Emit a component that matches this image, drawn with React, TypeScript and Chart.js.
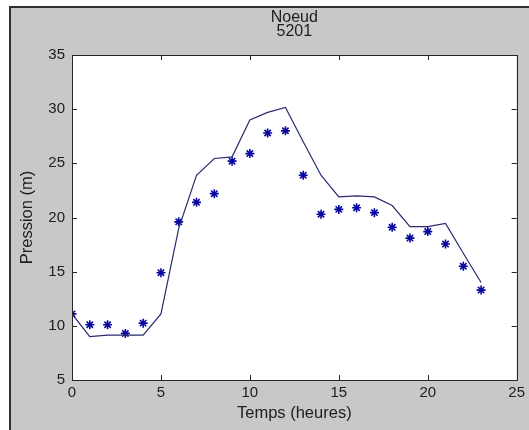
import React, { useEffect, useRef } from "react";
import { Chart, registerables } from "chart.js";

Chart.register(...registerables);

const hours = [0, 1, 2, 3, 4, 5, 6, 7, 8, 9, 10, 11, 12, 13, 14, 15, 16, 17, 18, 19, 20, 21, 22, 23];
const simulated = [11.1, 9.0, 9.15, 9.15, 9.15, 11.1, 19.0, 23.9, 25.45, 25.6, 29.0, 29.7, 30.15, 27.0, 23.9, 21.9, 22.0, 21.9, 21.1, 19.15, 19.15, 19.45, 16.7, 14.0];
const measured = [11.1, 10.1, 10.1, 9.3, 10.25, 14.9, 19.6, 21.4, 22.2, 25.2, 25.9, 27.8, 28.0, 23.9, 20.3, 20.75, 20.9, 20.45, 19.1, 18.1, 18.7, 17.55, 15.5, 13.3];
const titleLines = ["Noeud", "5201"];
const xTitle = "Temps (heures)";
const yTitle = "Pression (m)";

const FONT = "'Liberation Sans', Arial, sans-serif";
const TEXT = "#202020";

const boxPlugin = {
  id: "matlabBox",
  beforeDatasetsDraw(chart: any) {
    const { ctx, chartArea } = chart;
    ctx.save();
    ctx.fillStyle = "#ffffff";
    ctx.fillRect(chartArea.left, chartArea.top, chartArea.right - chartArea.left, chartArea.bottom - chartArea.top);
    ctx.restore();
  },
  afterDatasetsDraw(chart: any) {
    const { ctx, chartArea, scales } = chart;
    const { left, right, top, bottom } = chartArea;
    const tl = 5;
    ctx.save();
    ctx.strokeStyle = "#262626";
    ctx.lineWidth = 1;
    ctx.beginPath();
    ctx.rect(Math.round(left) + 0.5, Math.round(top) + 0.5, Math.round(right - left), Math.round(bottom - top));
    scales.x.ticks.forEach((t: any) => {
      const px = Math.round(scales.x.getPixelForValue(t.value)) + 0.5;
      ctx.moveTo(px, bottom);
      ctx.lineTo(px, bottom - tl);
      ctx.moveTo(px, top);
      ctx.lineTo(px, top + tl);
    });
    scales.y.ticks.forEach((t: any) => {
      const py = Math.round(scales.y.getPixelForValue(t.value)) + 0.5;
      ctx.moveTo(left, py);
      ctx.lineTo(left + tl, py);
      ctx.moveTo(right, py);
      ctx.lineTo(right - tl, py);
    });
    ctx.stroke();

    // title centred over the plot area (MATLAB style)
    ctx.fillStyle = TEXT;
    ctx.font = `16px ${FONT}`;
    ctx.textAlign = "center";
    ctx.textBaseline = "middle";
    const cx = (left + right) / 2;
    titleLines.forEach((line, i) => {
      ctx.fillText(line, cx, 17.5 + i * 14.5);
    });
    ctx.restore();
  },
};

export default function App() {
  const ref = useRef<HTMLCanvasElement | null>(null);

  useEffect(() => {
    if (!ref.current) return;
    const chart = new Chart(ref.current, {
      type: "line",
      data: {
        datasets: [
          {
            label: "simulé",
            data: hours.map((h, i) => ({ x: h, y: simulated[i] })),
            borderColor: "#2a2a72",
            borderWidth: 1.2,
            pointRadius: 0,
            tension: 0,
            fill: false,
          },
          {
            label: "mesuré",
            data: hours.map((h, i) => ({ x: h, y: measured[i] })),
            showLine: false,
            pointStyle: "star",
            pointRadius: 4.5,
            pointBorderColor: "#0808a0",
            pointBackgroundColor: "#0808a0",
            pointBorderWidth: 1.6,
          },
        ],
      },
      options: {
        responsive: false,
        animation: false,
        events: [],
        layout: { padding: { left: 0, right: 10, top: 55, bottom: 0 } },
        plugins: {
          legend: { display: false },
          tooltip: { enabled: false },
          title: { display: false },
        },
        scales: {
          x: {
            type: "linear",
            min: 0,
            max: 25,
            grid: { display: false, drawTicks: false, tickLength: 0 },
            border: { display: false },
            ticks: { stepSize: 5, color: TEXT, font: { family: FONT, size: 15 }, padding: 4, maxRotation: 0 },
            title: { display: true, text: xTitle, color: TEXT, font: { family: FONT, size: 16.5 }, padding: { top: 0, bottom: 7 } },
            afterFit: (s: any) => { s.height = 50; },
          },
          y: {
            type: "linear",
            min: 5,
            max: 35,
            grid: { display: false, drawTicks: false, tickLength: 0 },
            border: { display: false },
            ticks: { stepSize: 5, color: TEXT, font: { family: FONT, size: 15 }, padding: 7 },
            title: { display: true, text: yTitle, color: TEXT, font: { family: FONT, size: 16.5 }, padding: { top: 18, bottom: 0 } },
            afterFit: (s: any) => { s.width = 72; },
          },
        },
      },
      plugins: [boxPlugin],
    });
    return () => chart.destroy();
  }, []);

  return (
    <div style={{ position: "fixed", left: 0, top: 0, width: 529, height: 430, background: "#ffffff", overflow: "hidden" }}>
      <div
        style={{
          position: "absolute",
          left: 9,
          top: 6,
          width: 530,
          height: 422,
          background: "#c8c8c8",
          borderLeft: "2px solid #303030",
          borderTop: "2px solid #303030",
          borderBottom: "2px solid #303030",
        }}
      />
      <canvas ref={ref} width={529} height={430} style={{ position: "absolute", left: 0, top: 0, width: 529, height: 430 }} />
    </div>
  );
}
